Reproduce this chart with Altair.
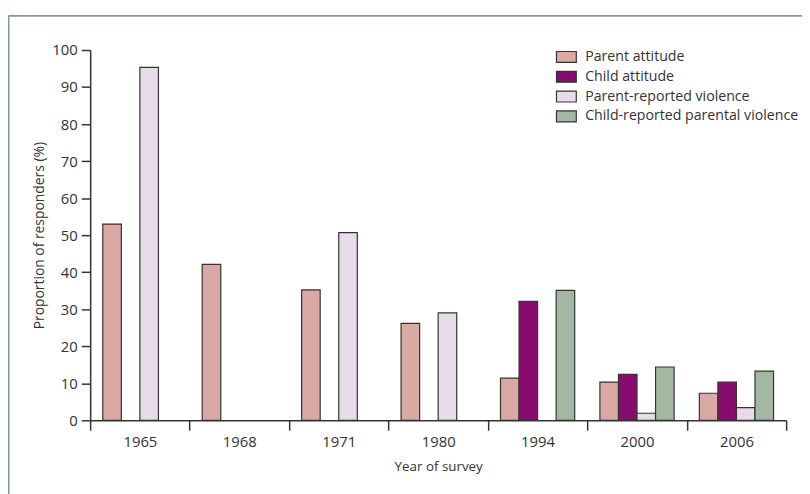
import altair as alt
import pandas as pd

years = ["1965", "1968", "1971", "1980", "1994", "2000", "2006"]
series = ["Parent attitude", "Child attitude", "Parent-reported violence",
          "Child-reported parental violence"]
parent_attitude = [53.0, 42.1, 35.2, 26.2, 11.4, 10.3, 7.3]
child_attitude = [None, None, None, None, 32.1, 12.4, 10.3]
parent_violence = [95.3, None, 50.7, 29.0, None, 1.9, 3.4]
child_violence = [None, None, None, None, 35.1, 14.4, 13.3]
colors = ["#dba9a4", "#870c6e", "#e8dcea", "#a3b8a3"]

rows = []
for name, vals in zip(series, [parent_attitude, child_attitude,
                               parent_violence, child_violence]):
    for y, v in zip(years, vals):
        if v is not None:
            rows.append({"year": y, "series": name, "value": v})
df = pd.DataFrame(rows)

FONT = "Open Sans"

bars = alt.Chart(df).mark_bar(stroke="#333333", strokeWidth=1.2).encode(
    x=alt.X("year:N", sort=years,
            scale=alt.Scale(domain=years, paddingInner=0, paddingOuter=0),
            axis=alt.Axis(title="Year of survey", labelAngle=0, tickBand="extent",
                          tickSize=10, labelPadding=4, titlePadding=11,
                          labelFontSize=15, titleFontSize=13.5,
                          labelFont=FONT, titleFont=FONT, titleFontWeight="normal")),
    xOffset=alt.XOffset("series:N", sort=series,
                        scale=alt.Scale(domain=series, paddingInner=0, paddingOuter=0.68)),
    y=alt.Y("value:Q",
            scale=alt.Scale(domain=[0, 100], nice=False),
            axis=alt.Axis(title="Proportion of responders (%)", values=list(range(0, 101, 10)),
                          tickSize=9, labelPadding=4, titlePadding=5,
                          labelFontSize=15, titleFontSize=14, grid=False,
                          labelFont=FONT, titleFont=FONT, titleFontWeight="normal")),
    color=alt.Color("series:N", sort=series,
                    scale=alt.Scale(domain=series, range=colors),
                    legend=alt.Legend(title=None, orient="none", legendX=470, legendY=-4,
                                      symbolType="M-1,-0.55H1V0.55H-1Z", symbolSize=400,
                                      symbolStrokeColor="#333333", symbolStrokeWidth=1.2,
                                      symbolOpacity=1, labelLimit=400,
                                      labelFontSize=14.3, labelOffset=8, rowPadding=1,
                                      labelFont=FONT, labelColor="#333333")),
)

frame_data = pd.DataFrame({"k": [0]})
frame_top = alt.Chart(frame_data).mark_rule(color="#86969f", strokeWidth=2).encode(
    x=alt.value(-82.5), x2=alt.value(740), y=alt.value(-34.5))
frame_left = alt.Chart(frame_data).mark_rule(color="#86969f", strokeWidth=2).encode(
    x=alt.value(-82.5), y=alt.value(-34.5), y2=alt.value(460))

chart = alt.layer(frame_top, frame_left, bars).properties(
    width=703, height=374,
    background="white",
    autosize=alt.AutoSizeParams(type="none"),
    padding={"left": 83, "top": 40, "right": 16, "bottom": 72},
).configure_view(stroke=None).configure_axis(
    domainColor="#333333", domainWidth=1.5, tickColor="#333333", tickWidth=1.5,
    labelColor="#333333", titleColor="#333333", labelFont=FONT, titleFont=FONT,
    titleFontWeight="normal",
)

chart.save("out.html", embed_options={"renderer": "svg", "actions": False})
